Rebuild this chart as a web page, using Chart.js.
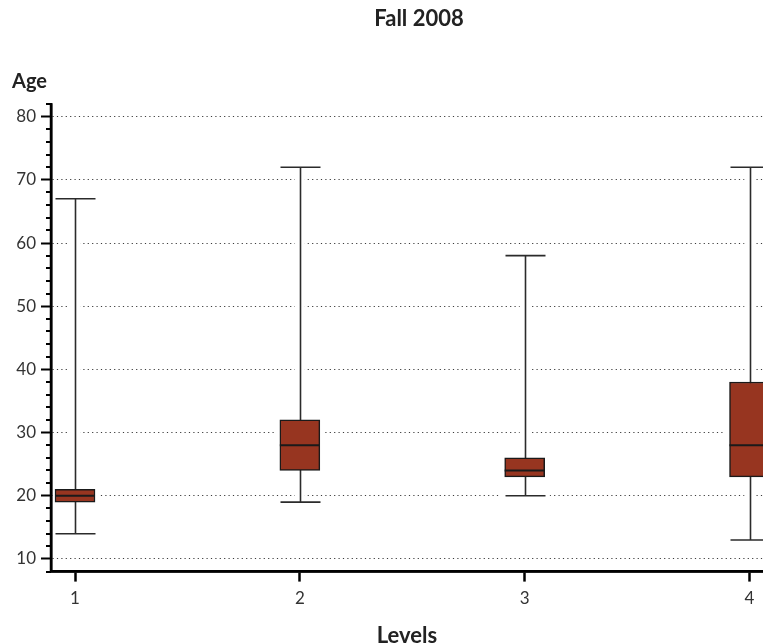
<!DOCTYPE html>
<html>
<head>
<meta charset="utf-8">
<script src="https://cdn.jsdelivr.net/npm/chart.js@4.4.1/dist/chart.umd.min.js"></script>
<style>
  html, body { margin: 0; padding: 0; background: #fff; }
  #wrap { width: 763px; height: 643px; }
</style>
</head>
<body>
<div id="wrap"><canvas id="c" width="763" height="643"></canvas></div>
<script>
// ---- data ----
const levels = ['1', '2', '3', '4'];
const levelPositions = [1, 2, 3, 4];
const whiskerLow  = [14, 19, 20, 13];
const q1          = [19, 24, 23, 23];
const median      = [20, 28, 24, 28];
const q3          = [21, 32, 26, 38];
const whiskerHigh = [67, 72, 58, 72];
const yTickValues = [10, 20, 30, 40, 50, 60, 70, 80];
const yMinorStep = 2;
const titleText = 'Fall 2008';
const yTitleText = 'Age';
const xTitleText = 'Levels';

const FONT = 'Lato, "Open Sans", sans-serif';
const BOX_PX = 40;

const boxPlugin = {
  id: 'boxPlugin',
  beforeDatasetsDraw(chart) {
    const {ctx, chartArea: ca, scales: {x, y}} = chart;
    ctx.save();
    ctx.beginPath();
    ctx.rect(ca.left + 2, ca.top, ca.right - ca.left - 2, ca.bottom - ca.top - 2);
    ctx.clip();
    ctx.fillStyle = '#fff';
    levelPositions.forEach((p, i) => {
      const cx = x.getPixelForValue(p);
      const yHi = y.getPixelForValue(whiskerHigh[i]);
      const yLo = y.getPixelForValue(whiskerLow[i]);
      const yQ3 = y.getPixelForValue(q3[i]);
      const yQ1 = y.getPixelForValue(q1[i]);
      ctx.fillRect(cx - 5, yHi, 10, yLo - yHi);
      ctx.fillRect(cx - BOX_PX / 2 - 5, yQ3 - 2, BOX_PX + 10, yQ1 - yQ3 + 4);
      ctx.fillRect(cx - BOX_PX / 2 - 5, yHi - 2, BOX_PX + 10, 4);
      ctx.fillRect(cx - BOX_PX / 2 - 5, yLo - 2, BOX_PX + 10, 4);
    });
    ctx.strokeStyle = '#2b2b2b';
    ctx.lineWidth = 1.6;
    levelPositions.forEach((p, i) => {
      const cx = Math.round(x.getPixelForValue(p)) + 0.5;
      const yHi = y.getPixelForValue(whiskerHigh[i]);
      const yLo = y.getPixelForValue(whiskerLow[i]);
      ctx.beginPath();
      ctx.moveTo(cx, yHi); ctx.lineTo(cx, yLo);
      ctx.moveTo(cx - BOX_PX / 2, yHi); ctx.lineTo(cx + BOX_PX / 2, yHi);
      ctx.moveTo(cx - BOX_PX / 2, yLo); ctx.lineTo(cx + BOX_PX / 2, yLo);
      ctx.stroke();
    });
    ctx.restore();
  },
  afterDatasetsDraw(chart) {
    const {ctx, chartArea: ca, scales: {x, y}} = chart;
    ctx.save();
    ctx.beginPath();
    ctx.rect(ca.left, ca.top, ca.right - ca.left, ca.bottom - ca.top);
    ctx.clip();
    ctx.strokeStyle = '#1a1a1a';
    ctx.lineWidth = 2;
    levelPositions.forEach((p, i) => {
      const cx = x.getPixelForValue(p);
      const ym = y.getPixelForValue(median[i]);
      ctx.beginPath();
      ctx.moveTo(cx - BOX_PX / 2, ym); ctx.lineTo(cx + BOX_PX / 2, ym);
      ctx.stroke();
    });
    ctx.restore();
  },
  afterDraw(chart) {
    const {ctx, chartArea: ca, scales: {y}} = chart;
    ctx.save();
    ctx.strokeStyle = '#000';
    ctx.setLineDash([]);
    ctx.lineWidth = 2.5;
    ctx.beginPath();
    ctx.moveTo(ca.left, ca.top); ctx.lineTo(ca.left, ca.bottom);
    ctx.moveTo(ca.left, ca.bottom); ctx.lineTo(ca.right, ca.bottom);
    ctx.stroke();
    ctx.lineWidth = 2;
    for (let v = y.min; v <= y.max + 1e-6; v += yMinorStep) {
      if (Math.abs(v % 10) < 1e-6) continue;
      const py = Math.round(y.getPixelForValue(v));
      ctx.beginPath();
      ctx.moveTo(ca.left - 5, py); ctx.lineTo(ca.left, py);
      ctx.stroke();
    }
    ctx.fillStyle = '#222';
    ctx.font = 'bold 22px ' + FONT;
    ctx.textAlign = 'center';
    ctx.textBaseline = 'alphabetic';
    ctx.fillText(titleText, 419, 26);
    ctx.font = 'bold 20px ' + FONT;
    ctx.textAlign = 'left';
    ctx.fillText(yTitleText, 12, 88);
    ctx.restore();
  }
};

new Chart(document.getElementById('c'), {
  type: 'bar',
  data: {
    datasets: [{
      data: levelPositions.map((p, i) => ({x: p, y: [q1[i], q3[i]]})),
      backgroundColor: '#973520',
      borderColor: '#1a1a1a',
      borderWidth: 1.5,
      borderSkipped: false,
      barThickness: BOX_PX,
      grouped: false
    }]
  },
  options: {
    responsive: false,
    animation: false,
    devicePixelRatio: 1,
    layout: { padding: { top: 104, right: 0, bottom: 0, left: 0 } },
    plugins: { legend: { display: false }, title: { display: false }, tooltip: { enabled: false } },
    scales: {
      x: {
        type: 'linear',
        min: 0.8932,
        max: 4.06,
        offset: false,
        afterBuildTicks(scale) { scale.ticks = levelPositions.map(v => ({value: v})); },
        afterFit(scale) { scale.height = 71.4; },
        ticks: {
          callback: (v) => levels[levelPositions.indexOf(v)],
          color: '#333',
          font: { family: FONT, size: 17 },
          padding: 7,
          maxRotation: 0,
          autoSkip: false
        },
        grid: {
          offset: false,
          drawOnChartArea: false,
          drawTicks: true,
          tickLength: 10,
          tickColor: '#000',
          tickWidth: 2.5
        },
        border: { display: true, color: '#000', width: 2.5 },
        title: {
          display: true,
          text: xTitleText,
          color: '#222',
          font: { family: FONT, size: 22, weight: 'bold', lineHeight: 0.68 },
          padding: { top: 0, bottom: 0 }
        }
      },
      y: {
        type: 'linear',
        min: 8,
        max: 82,
        afterBuildTicks(scale) { scale.ticks = yTickValues.map(v => ({value: v})); },
        afterFit(scale) { scale.width = 51; },
        ticks: {
          color: '#333',
          font: { family: FONT, size: 17 },
          padding: 5
        },
        grid: {
          offset: false,
          drawOnChartArea: true,
          color: '#3c3c3c',
          lineWidth: 1,
          tickBorderDash: [],
          tickLength: 10,
          tickColor: '#000',
          tickWidth: 2
        },
        border: { display: true, color: '#000', width: 2.5, dash: [1.2, 3.2] }
      }
    }
  },
  plugins: [boxPlugin]
});
</script>
</body>
</html>
